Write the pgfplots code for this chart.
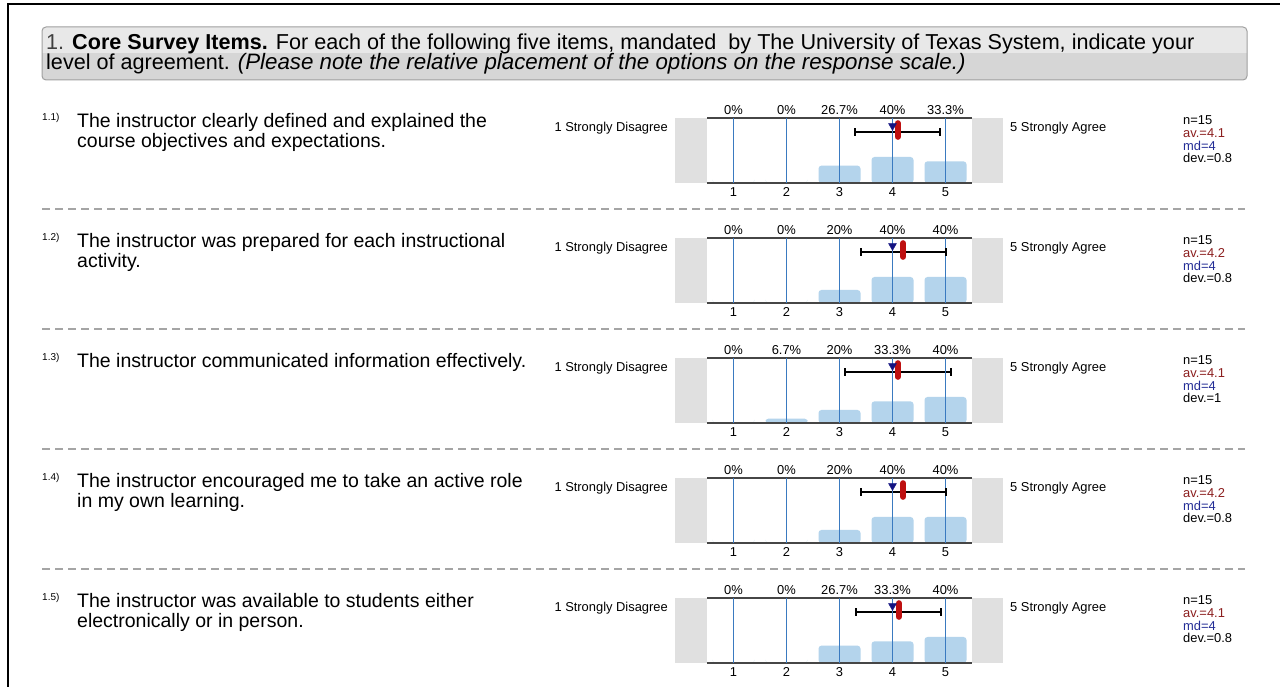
\documentclass[border=0pt]{standalone}
\usepackage{pgfplots}
\pgfplotsset{compat=1.18}
\usepackage{pgfplotstable}
\usepackage{fontspec}
\setmainfont{Liberation Sans}
\definecolor{barblue}{RGB}{180,212,236}
\definecolor{gridblue}{RGB}{58,122,192}
\definecolor{meanred}{RGB}{190,16,16}
\definecolor{mednavy}{RGB}{20,20,130}
\definecolor{avred}{RGB}{140,30,30}
\definecolor{mdblue}{RGB}{35,45,150}
\definecolor{boxgray}{RGB}{224,224,224}
\definecolor{axisgray}{RGB}{70,70,70}
\definecolor{hdrtop}{RGB}{232,232,232}
\definecolor{hdrbot}{RGB}{214,214,214}
\definecolor{hdrline}{RGB}{160,160,160}
\definecolor{dashgray}{RGB}{165,165,165}

\newcommand{\itemfont}{\fontsize{19.5}{20}\selectfont}
\newcommand{\hdrfont}{\fontsize{21.6}{22}\selectfont}
\newcommand{\smallfont}{\fontsize{12.9}{13}\selectfont}

% percentage of responses for options 1..5
\pgfplotstableread{
x pct
1 0
2 0
3 26.7
4 40
5 33.3
}\tabA
\pgfplotstableread{
x pct
1 0
2 0
3 20
4 40
5 40
}\tabB
\pgfplotstableread{
x pct
1 0
2 6.7
3 20
4 33.3
5 40
}\tabC
\pgfplotstableread{
x pct
1 0
2 0
3 20
4 40
5 40
}\tabD
\pgfplotstableread{
x pct
1 0
2 0
3 26.7
4 33.3
5 40
}\tabE

% #1 offset (px), #2 table, #3 mean, #4 median, #5 mean-dev, #6 mean+dev
\newcommand{\panel}[6]{%
\begin{axis}[at={(707pt,{(504-#1)*1pt})}, anchor=south west, scale only axis,
  width=265pt, height=65pt, xmin=0.5, xmax=5.5, ymin=0, ymax=100,
  clip=false, axis on top, axis line style={draw=none},
  xtick={1,2,3,4,5}, ytick=\empty, major tick length=0pt, tick style={draw=none},
  xmajorgrids, major grid style={color=gridblue, line width=1.5pt, solid, opacity=1},
  xticklabel style={font=\smallfont, text=black, inner sep=0pt, yshift=-4pt},
  /pgf/number format/assume math mode=true]
\fill[boxgray] (rel axis cs:-0.121,0) rectangle (rel axis cs:0,1);
\fill[boxgray] (rel axis cs:1,0) rectangle (rel axis cs:1.117,1);
\addplot[ybar, bar width=42pt, fill=barblue, draw=none, rounded corners=3pt] table[x=x,y=pct]{#2};
\addplot[draw=none, mark=none, point meta=explicit,
  nodes near coords={\pgfmathprintnumber{\pgfplotspointmeta}\%},
  every node near coord/.style={font=\smallfont, text=black, anchor=base, inner sep=0pt}]
  table[x=x, y expr=106, meta=pct]{#2};
\draw[axisgray, line width=1.5pt] (rel axis cs:0,0) -- (rel axis cs:1,0);
\draw[axisgray, line width=1.5pt] (rel axis cs:0,1) -- (rel axis cs:1,1);
\addplot[black, line width=2pt, mark=|, mark size=4pt, mark options={solid, line width=2pt}] coordinates {(#5,78) (#6,78)};
\addplot[only marks, mark=triangle*, mark size=4.6pt, mark options={rotate=180, fill=mednavy, draw=mednavy}] coordinates {(#4,88)};
\addplot[meanred, line width=6pt, line cap=round, mark=none] coordinates {(#3,71) (#3,92)};
\end{axis}}

% #1 offset, #2 number, #3 line1, #4 line2, #5 av, #6 dev
\newcommand{\rowtext}[6]{%
\node[t, anchor=base west, font=\fontsize{10}{10}\selectfont] at (42,{687-121-#1}) {#2};
\node[t, anchor=base west, font=\itemfont] at (77,{687-128-#1}) {#3};
\node[t, anchor=base west, font=\itemfont] at (77,{687-148-#1}) {#4};
\node[t, anchor=base east, font=\smallfont] at (668,{687-132-#1}) {1 Strongly Disagree};
\node[t, anchor=base west, font=\smallfont] at (1010,{687-132-#1}) {5 Strongly Agree};
\node[t, anchor=base west, font=\smallfont] at (1183,{687-124.5-#1}) {n=15};
\node[t, anchor=base west, font=\smallfont, text=avred] at (1183,{687-137.5-#1}) {av.=#5};
\node[t, anchor=base west, font=\smallfont, text=mdblue] at (1183,{687-150.5-#1}) {md=4};
\node[t, anchor=base west, font=\smallfont] at (1183,{687-162.5-#1}) {dev.=#6};
}

\begin{document}
\begin{tikzpicture}[x=1pt, y=1pt, t/.style={inner sep=0pt}]
\useasboundingbox (0,0) rectangle (1280,687);
\fill[white] (0,0) rectangle (1280,687);
% page frame
\draw[black, line width=2.5pt] (8,0) -- (8,683) -- (1280,683);
% header box
\fill[hdrbot, rounded corners=4pt] (42,{687-80}) rectangle (1247,{687-27});
\begin{scope}
\clip[rounded corners=4pt] (42,{687-80}) rectangle (1247,{687-27});
\fill[hdrtop] (42,{687-53}) rectangle (1247,{687-27});
\end{scope}
\draw[hdrline, line width=1pt, rounded corners=4pt] (42,{687-80}) rectangle (1247,{687-27});
\node[t, anchor=base west, font=\hdrfont] at (46,{687-49.5}) {{\color{black!75}1.} \textbf{Core Survey Items.} For each of the following five items, mandated\ \ by The University of Texas System, indicate your};
\node[t, anchor=base west, font=\hdrfont] at (46,{687-69.5}) {level of agreement. {\fontsize{22.3}{22}\selectfont\itshape (Please note the relative placement of the options on the response scale.)}};
% separators
\foreach \yy in {209,329,449,569} {
  \draw[dashgray, line width=1.2pt, dash pattern=on 8pt off 5pt] (42,{687-\yy}) -- (1245,{687-\yy});
}
\rowtext{0}{1.1)}{The instructor clearly defined and explained the}{course objectives and expectations.}{4.1}{0.8}
\rowtext{120}{1.2)}{The instructor was prepared for each instructional}{activity.}{4.2}{0.8}
\rowtext{240}{1.3)}{The instructor communicated information effectively.}{}{4.1}{1}
\rowtext{360}{1.4)}{The instructor encouraged me to take an active role}{in my own learning.}{4.2}{0.8}
\rowtext{480}{1.5)}{The instructor was available to students either}{electronically or in person.}{4.1}{0.8}
\panel{0}{\tabA}{4.1}{4}{3.3}{4.9}
\panel{120}{\tabB}{4.2}{4}{3.4}{5.0}
\panel{240}{\tabC}{4.1}{4}{3.1}{5.1}
\panel{360}{\tabD}{4.2}{4}{3.4}{5.0}
\panel{480}{\tabE}{4.12}{4}{3.32}{4.92}
\end{tikzpicture}
\end{document}
